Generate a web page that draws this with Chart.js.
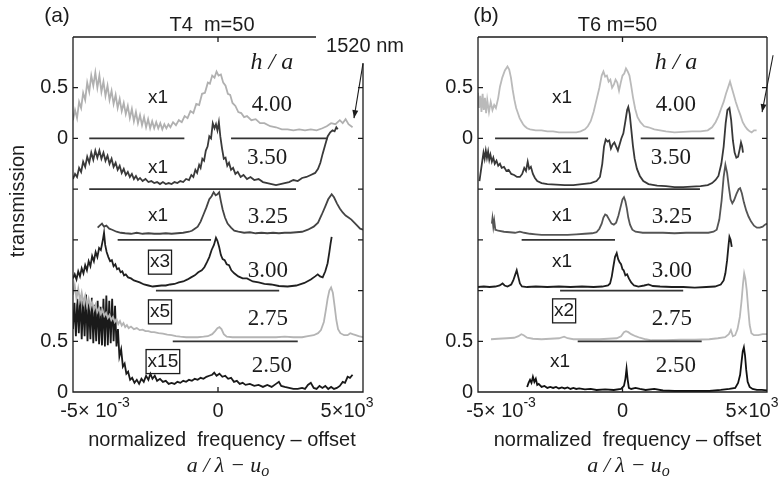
<!DOCTYPE html>
<html><head><meta charset="utf-8">
<script src="https://cdn.jsdelivr.net/npm/chart.js@4.4.1/dist/chart.umd.min.js"></script>
<style>
html,body{margin:0;padding:0;background:#fff;width:782px;height:487px;overflow:hidden}
#cA{position:absolute;left:0;top:0}
#cB{position:absolute;left:391px;top:0}
</style></head><body>
<canvas id="cA" width="440" height="487"></canvas>
<canvas id="cB" width="391" height="487"></canvas>
<script>
// ---------- data ----------
const offsets = [2.5, 2.0, 1.5, 1.0, 0.5, 0];
const haLabels = ['4.00','3.50','3.25','3.00','2.75','2.50'];
const multA = ['x1','x1','x1','x3','x5','x15'];
const multB = ['x1','x1','x1','x1','x2','x1'];
const yTickLabels = ['0','0.5','','','','0','0.5',''];
const xTickValues = [-5, 0, 5];
const xTickBase = ['-5\u00d7 10', '0', '5\u00d710'];
const xTickSup = ['-3', '', '3'];

// panel (a) T4 : [normalized frequency offset (1e-3), transmission above baseline]
const a400 = [[-5.0,0.18],[-4.93,0.28],[-4.86,0.20],[-4.79,0.36],[-4.72,0.30],[-4.65,0.45],[-4.58,0.38],[-4.51,0.55],[-4.44,0.46],[-4.37,0.62],[-4.30,0.52],[-4.23,0.65],[-4.16,0.50],[-4.09,0.62],[-4.02,0.46],[-3.95,0.56],[-3.88,0.42],[-3.81,0.52],[-3.74,0.38],[-3.67,0.47],[-3.60,0.34],[-3.53,0.43],[-3.46,0.30],[-3.39,0.39],[-3.32,0.27],[-3.25,0.35],[-3.18,0.24],[-3.11,0.32],[-3.04,0.20],[-2.97,0.29],[-2.90,0.17],[-2.83,0.26],[-2.76,0.15],[-2.69,0.23],[-2.62,0.13],[-2.55,0.21],[-2.48,0.11],[-2.41,0.19],[-2.34,0.10],[-2.27,0.17],[-2.20,0.10],[-2.13,0.16],[-2.06,0.10],[-1.99,0.15],[-1.92,0.09],[-1.85,0.14],[-1.78,0.10],[-1.71,0.14],[-1.64,0.11],[-1.55,0.16],[-1.45,0.13],[-1.35,0.18],[-1.25,0.16],[-1.15,0.22],[-1.05,0.20],[-0.95,0.27],[-0.85,0.25],[-0.75,0.34],[-0.65,0.33],[-0.55,0.44],[-0.45,0.45],[-0.35,0.55],[-0.28,0.54],[-0.2,0.62],[-0.12,0.60],[-0.05,0.66],[0.02,0.62],[0.1,0.63],[0.18,0.55],[0.26,0.52],[0.34,0.44],[0.42,0.43],[0.5,0.35],[0.6,0.32],[0.7,0.26],[0.8,0.25],[0.9,0.21],[1.0,0.22],[1.15,0.18],[1.3,0.19],[1.45,0.15],[1.6,0.15],[1.8,0.12],[2.0,0.11],[2.2,0.09],[2.4,0.09],[2.6,0.08],[2.8,0.09],[3.0,0.08],[3.2,0.09],[3.4,0.08],[3.6,0.10],[3.75,0.12],[3.9,0.15],[4.05,0.14],[4.2,0.18],[4.3,0.15],[4.4,0.19],[4.5,0.14],[4.64,0.11]];
const a350 = [[-5.0,0.10],[-4.93,0.15],[-4.86,0.12],[-4.79,0.21],[-4.72,0.17],[-4.65,0.27],[-4.58,0.22],[-4.51,0.32],[-4.44,0.26],[-4.37,0.36],[-4.30,0.29],[-4.23,0.38],[-4.16,0.31],[-4.09,0.38],[-4.02,0.30],[-3.95,0.36],[-3.88,0.28],[-3.81,0.33],[-3.74,0.25],[-3.67,0.30],[-3.60,0.22],[-3.53,0.26],[-3.46,0.19],[-3.39,0.23],[-3.32,0.16],[-3.25,0.20],[-3.18,0.14],[-3.11,0.17],[-3.04,0.12],[-2.97,0.15],[-2.90,0.10],[-2.83,0.13],[-2.76,0.09],[-2.69,0.11],[-2.6,0.08],[-2.5,0.10],[-2.4,0.07],[-2.3,0.08],[-2.2,0.06],[-2.1,0.07],[-2.0,0.05],[-1.9,0.07],[-1.8,0.05],[-1.7,0.06],[-1.6,0.05],[-1.5,0.07],[-1.4,0.06],[-1.3,0.08],[-1.2,0.07],[-1.1,0.10],[-1.0,0.09],[-0.92,0.14],[-0.85,0.12],[-0.78,0.19],[-0.72,0.16],[-0.65,0.24],[-0.6,0.21],[-0.54,0.30],[-0.48,0.28],[-0.42,0.38],[-0.36,0.42],[-0.3,0.52],[-0.24,0.50],[-0.18,0.65],[-0.12,0.60],[-0.07,0.64],[-0.02,0.58],[0.03,0.66],[0.08,0.52],[0.14,0.40],[0.2,0.30],[0.26,0.31],[0.32,0.23],[0.38,0.26],[0.45,0.19],[0.52,0.21],[0.6,0.15],[0.68,0.17],[0.78,0.12],[0.88,0.14],[1.0,0.10],[1.12,0.12],[1.25,0.09],[1.4,0.10],[1.55,0.07],[1.7,0.06],[1.85,0.05],[2.0,0.04],[2.15,0.05],[2.3,0.06],[2.45,0.07],[2.6,0.09],[2.75,0.08],[2.9,0.11],[3.05,0.12],[3.2,0.14],[3.35,0.16],[3.45,0.20],[3.53,0.26],[3.61,0.35],[3.7,0.44],[3.78,0.52],[3.87,0.56],[3.95,0.58],[4.02,0.57],[4.08,0.61],[4.13,0.59]];
const a325 = [[-4.15,0.12],[-4.08,0.14],[-4.0,0.16],[-3.93,0.13],[-3.85,0.14],[-3.75,0.11],[-3.65,0.10],[-3.5,0.08],[-3.35,0.07],[-3.2,0.065],[-3.0,0.06],[-2.8,0.07],[-2.6,0.06],[-2.4,0.065],[-2.2,0.06],[-2.0,0.06],[-1.8,0.065],[-1.6,0.06],[-1.4,0.065],[-1.2,0.07],[-1.0,0.08],[-0.9,0.09],[-0.8,0.11],[-0.7,0.13],[-0.6,0.18],[-0.5,0.25],[-0.4,0.32],[-0.3,0.40],[-0.22,0.43],[-0.15,0.47],[-0.08,0.44],[-0.02,0.45],[0.04,0.47],[0.1,0.38],[0.16,0.30],[0.24,0.22],[0.33,0.16],[0.45,0.12],[0.56,0.09],[0.7,0.08],[0.9,0.07],[1.1,0.075],[1.3,0.065],[1.5,0.07],[1.7,0.065],[1.9,0.07],[2.1,0.065],[2.3,0.07],[2.5,0.07],[2.7,0.075],[2.9,0.08],[3.1,0.10],[3.3,0.13],[3.45,0.17],[3.58,0.25],[3.7,0.33],[3.8,0.40],[3.92,0.45],[4.0,0.42],[4.1,0.36],[4.2,0.31],[4.3,0.27],[4.4,0.24],[4.5,0.22],[4.6,0.20],[4.7,0.17],[4.8,0.14],[4.9,0.11],[5.0,0.10]];
const a300 = [[-5.0,0.12],[-4.94,0.16],[-4.88,0.11],[-4.82,0.19],[-4.76,0.14],[-4.7,0.22],[-4.64,0.17],[-4.58,0.25],[-4.52,0.20],[-4.46,0.29],[-4.4,0.24],[-4.34,0.34],[-4.28,0.29],[-4.22,0.38],[-4.16,0.33],[-4.1,0.42],[-4.04,0.40],[-3.97,0.50],[-3.93,0.57],[-3.89,0.45],[-3.84,0.38],[-3.78,0.33],[-3.72,0.29],[-3.66,0.30],[-3.6,0.24],[-3.54,0.26],[-3.48,0.21],[-3.42,0.22],[-3.36,0.18],[-3.3,0.19],[-3.24,0.15],[-3.18,0.16],[-3.1,0.13],[-3.0,0.12],[-2.9,0.10],[-2.8,0.09],[-2.7,0.08],[-2.55,0.06],[-2.4,0.05],[-2.25,0.04],[-2.1,0.045],[-1.95,0.05],[-1.8,0.05],[-1.65,0.06],[-1.5,0.065],[-1.35,0.08],[-1.2,0.09],[-1.05,0.11],[-0.93,0.13],[-0.8,0.15],[-0.68,0.18],[-0.56,0.20],[-0.47,0.23],[-0.38,0.28],[-0.3,0.33],[-0.22,0.40],[-0.14,0.45],[-0.07,0.52],[-0.02,0.49],[0.04,0.43],[0.1,0.35],[0.16,0.31],[0.23,0.30],[0.3,0.26],[0.38,0.25],[0.46,0.20],[0.56,0.17],[0.7,0.14],[0.85,0.12],[1.0,0.12],[1.2,0.09],[1.4,0.08],[1.6,0.065],[1.83,0.06],[2.1,0.045],[2.4,0.04],[2.7,0.05],[2.98,0.075],[3.2,0.11],[3.35,0.14],[3.44,0.16],[3.52,0.14],[3.61,0.13],[3.7,0.19],[3.78,0.27],[3.84,0.38],[3.88,0.46],[3.92,0.53]];
const a275 = [[-5.0,0.46],[-4.94,0.55],[-4.88,0.42],[-4.82,0.52],[-4.76,0.40],[-4.7,0.48],[-4.64,0.38],[-4.58,0.45],[-4.52,0.35],[-4.46,0.42],[-4.4,0.33],[-4.34,0.39],[-4.28,0.31],[-4.22,0.36],[-4.16,0.29],[-4.1,0.33],[-4.04,0.27],[-3.98,0.31],[-3.92,0.25],[-3.86,0.28],[-3.8,0.23],[-3.74,0.26],[-3.68,0.21],[-3.62,0.24],[-3.56,0.19],[-3.5,0.22],[-3.44,0.17],[-3.38,0.20],[-3.32,0.155],[-3.26,0.18],[-3.2,0.14],[-3.14,0.16],[-3.08,0.13],[-3.0,0.145],[-2.9,0.12],[-2.8,0.13],[-2.7,0.11],[-2.6,0.115],[-2.5,0.10],[-2.4,0.10],[-2.3,0.09],[-2.2,0.09],[-2.05,0.08],[-1.9,0.075],[-1.75,0.065],[-1.6,0.06],[-1.45,0.05],[-1.3,0.045],[-1.1,0.04],[-0.9,0.04],[-0.7,0.04],[-0.5,0.045],[-0.35,0.05],[-0.2,0.07],[-0.1,0.10],[-0.02,0.13],[0.05,0.14],[0.12,0.12],[0.2,0.07],[0.3,0.045],[0.5,0.04],[0.8,0.04],[1.1,0.04],[1.4,0.04],[1.7,0.04],[2.0,0.04],[2.3,0.045],[2.6,0.04],[2.9,0.04],[3.1,0.05],[3.3,0.06],[3.45,0.08],[3.55,0.11],[3.65,0.19],[3.72,0.31],[3.78,0.42],[3.84,0.50],[3.9,0.53],[3.96,0.48],[4.02,0.35],[4.08,0.21],[4.14,0.12],[4.22,0.08],[4.35,0.06],[4.47,0.06],[4.56,0.08],[4.64,0.07],[4.75,0.06],[4.85,0.05],[5.0,0.04]];
const a250 = [[-5.0,0.62],[-4.95,0.88],[-4.9,0.55],[-4.85,0.92],[-4.8,0.58],[-4.75,0.95],[-4.7,0.52],[-4.65,0.90],[-4.6,0.55],[-4.55,0.96],[-4.5,0.50],[-4.45,0.88],[-4.4,0.52],[-4.35,0.93],[-4.3,0.48],[-4.25,0.86],[-4.2,0.50],[-4.15,0.90],[-4.1,0.47],[-4.05,0.84],[-4.0,0.46],[-3.95,0.92],[-3.9,0.45],[-3.85,0.95],[-3.8,0.46],[-3.75,0.90],[-3.7,0.48],[-3.65,0.92],[-3.6,0.50],[-3.55,0.85],[-3.5,0.45],[-3.45,0.62],[-3.4,0.35],[-3.34,0.42],[-3.28,0.25],[-3.22,0.28],[-3.16,0.18],[-3.1,0.20],[-3.03,0.12],[-2.96,0.14],[-2.88,0.09],[-2.8,0.12],[-2.72,0.08],[-2.64,0.13],[-2.56,0.10],[-2.48,0.16],[-2.4,0.12],[-2.33,0.18],[-2.26,0.13],[-2.18,0.16],[-2.1,0.11],[-2.0,0.13],[-1.9,0.10],[-1.8,0.11],[-1.7,0.08],[-1.6,0.09],[-1.5,0.08],[-1.4,0.10],[-1.3,0.09],[-1.2,0.11],[-1.1,0.10],[-1.0,0.12],[-0.9,0.11],[-0.8,0.13],[-0.7,0.12],[-0.6,0.14],[-0.5,0.13],[-0.4,0.15],[-0.3,0.16],[-0.2,0.17],[-0.13,0.19],[-0.05,0.16],[0.05,0.18],[0.15,0.15],[0.25,0.16],[0.35,0.13],[0.45,0.14],[0.55,0.10],[0.65,0.11],[0.75,0.08],[0.85,0.09],[0.95,0.07],[1.1,0.08],[1.25,0.06],[1.4,0.07],[1.55,0.05],[1.7,0.07],[1.85,0.05],[2.0,0.08],[2.1,0.10],[2.18,0.06],[2.3,0.05],[2.45,0.04],[2.6,0.03],[2.75,0.03],[2.9,0.04],[3.0,0.03],[3.1,0.07],[3.2,0.09],[3.3,0.04],[3.4,0.03],[3.5,0.06],[3.6,0.04],[3.7,0.06],[3.8,0.03],[3.9,0.05],[4.0,0.03],[4.1,0.04],[4.2,0.06],[4.3,0.10],[4.38,0.09],[4.47,0.15],[4.55,0.14],[4.64,0.17]];

// panel (b) T6
const b400 = [[-5.0,0.45],[-4.96,0.30],[-4.92,0.42],[-4.88,0.26],[-4.84,0.44],[-4.8,0.28],[-4.76,0.40],[-4.72,0.25],[-4.68,0.38],[-4.62,0.26],[-4.56,0.36],[-4.5,0.28],[-4.44,0.33],[-4.38,0.30],[-4.3,0.40],[-4.24,0.51],[-4.16,0.60],[-4.07,0.67],[-3.98,0.71],[-3.92,0.68],[-3.86,0.60],[-3.8,0.48],[-3.74,0.38],[-3.68,0.30],[-3.62,0.25],[-3.56,0.20],[-3.5,0.17],[-3.44,0.14],[-3.38,0.12],[-3.3,0.10],[-3.2,0.09],[-3.0,0.08],[-2.8,0.08],[-2.6,0.07],[-2.4,0.07],[-2.2,0.06],[-2.0,0.06],[-1.8,0.06],[-1.6,0.06],[-1.45,0.07],[-1.3,0.09],[-1.2,0.12],[-1.1,0.17],[-1.0,0.26],[-0.9,0.38],[-0.8,0.50],[-0.72,0.62],[-0.66,0.66],[-0.6,0.61],[-0.54,0.62],[-0.48,0.56],[-0.42,0.58],[-0.36,0.50],[-0.3,0.53],[-0.24,0.58],[-0.18,0.55],[-0.12,0.47],[-0.06,0.55],[0.0,0.62],[0.06,0.64],[0.12,0.69],[0.18,0.66],[0.24,0.62],[0.3,0.52],[0.36,0.41],[0.44,0.29],[0.52,0.21],[0.62,0.16],[0.75,0.12],[0.9,0.11],[1.1,0.09],[1.3,0.08],[1.5,0.07],[1.8,0.06],[2.1,0.065],[2.4,0.07],[2.7,0.07],[2.95,0.08],[3.1,0.11],[3.22,0.16],[3.32,0.22],[3.42,0.30],[3.5,0.36],[3.58,0.44],[3.65,0.50],[3.72,0.56],[3.78,0.50],[3.84,0.44],[3.92,0.36],[4.0,0.29],[4.08,0.23],[4.16,0.16],[4.24,0.12],[4.32,0.09],[4.4,0.07],[4.47,0.06],[4.55,0.08],[4.64,0.08]];
const b350 = [[-4.95,0.08],[-4.9,0.18],[-4.85,0.28],[-4.81,0.36],[-4.77,0.30],[-4.73,0.38],[-4.69,0.31],[-4.65,0.37],[-4.61,0.29],[-4.57,0.34],[-4.52,0.27],[-4.47,0.31],[-4.42,0.25],[-4.36,0.28],[-4.3,0.23],[-4.24,0.25],[-4.18,0.21],[-4.1,0.22],[-4.02,0.18],[-3.94,0.19],[-3.85,0.15],[-3.75,0.14],[-3.65,0.12],[-3.55,0.12],[-3.47,0.15],[-3.4,0.21],[-3.34,0.18],[-3.28,0.27],[-3.23,0.20],[-3.17,0.22],[-3.1,0.15],[-3.03,0.11],[-2.95,0.08],[-2.8,0.06],[-2.6,0.05],[-2.3,0.045],[-2.0,0.04],[-1.7,0.04],[-1.4,0.05],[-1.1,0.06],[-0.9,0.08],[-0.78,0.12],[-0.7,0.25],[-0.64,0.42],[-0.58,0.49],[-0.52,0.47],[-0.46,0.48],[-0.4,0.40],[-0.34,0.44],[-0.28,0.46],[-0.22,0.42],[-0.16,0.38],[-0.1,0.44],[-0.04,0.50],[0.03,0.55],[0.1,0.67],[0.16,0.78],[0.2,0.81],[0.25,0.74],[0.3,0.60],[0.36,0.43],[0.42,0.30],[0.5,0.20],[0.6,0.13],[0.72,0.08],[0.9,0.05],[1.2,0.035],[1.5,0.03],[1.8,0.02],[2.1,0.02],[2.4,0.025],[2.7,0.03],[2.95,0.04],[3.1,0.06],[3.22,0.09],[3.32,0.13],[3.42,0.25],[3.5,0.42],[3.57,0.65],[3.63,0.78],[3.7,0.80],[3.76,0.68],[3.82,0.48],[3.88,0.36],[3.94,0.31],[4.0,0.32],[4.06,0.40],[4.1,0.46],[4.14,0.42],[4.17,0.36]];
const b325 = [[-4.52,0.16],[-4.5,0.21],[-4.47,0.13],[-4.44,0.19],[-4.4,0.10],[-4.3,0.09],[-4.1,0.08],[-3.9,0.075],[-3.72,0.07],[-3.55,0.08],[-3.4,0.07],[-3.2,0.06],[-3.0,0.055],[-2.8,0.05],[-2.5,0.05],[-2.2,0.05],[-1.9,0.05],[-1.6,0.055],[-1.3,0.06],[-1.05,0.065],[-0.9,0.075],[-0.8,0.11],[-0.72,0.16],[-0.66,0.22],[-0.6,0.25],[-0.54,0.24],[-0.46,0.20],[-0.38,0.16],[-0.3,0.15],[-0.22,0.17],[-0.14,0.24],[-0.07,0.32],[0.0,0.40],[0.05,0.42],[0.1,0.38],[0.15,0.31],[0.2,0.22],[0.26,0.15],[0.34,0.10],[0.45,0.08],[0.7,0.07],[1.0,0.07],[1.4,0.07],[1.8,0.065],[2.2,0.07],[2.6,0.07],[2.97,0.07],[3.15,0.08],[3.26,0.10],[3.35,0.20],[3.43,0.39],[3.5,0.62],[3.56,0.74],[3.62,0.66],[3.68,0.52],[3.74,0.40],[3.8,0.36],[3.86,0.39],[3.94,0.45],[4.02,0.50],[4.07,0.51],[4.13,0.46],[4.2,0.37],[4.28,0.29],[4.36,0.23],[4.45,0.18],[4.55,0.14],[4.65,0.12],[4.75,0.12],[4.85,0.13],[4.93,0.15],[5.0,0.16]];
const b300 = [[-5.0,0.035],[-4.8,0.04],[-4.6,0.035],[-4.4,0.04],[-4.25,0.05],[-4.15,0.07],[-4.08,0.05],[-3.98,0.04],[-3.85,0.06],[-3.78,0.10],[-3.72,0.15],[-3.66,0.20],[-3.61,0.14],[-3.55,0.07],[-3.48,0.04],[-3.3,0.035],[-3.0,0.04],[-2.6,0.035],[-2.2,0.04],[-1.8,0.035],[-1.4,0.04],[-1.0,0.035],[-0.7,0.04],[-0.5,0.05],[-0.43,0.07],[-0.37,0.14],[-0.32,0.23],[-0.26,0.33],[-0.2,0.37],[-0.15,0.31],[-0.1,0.28],[-0.05,0.26],[0.0,0.21],[0.04,0.20],[0.1,0.15],[0.16,0.16],[0.22,0.12],[0.3,0.08],[0.4,0.05],[0.55,0.04],[0.75,0.05],[0.9,0.06],[1.05,0.045],[1.3,0.04],[1.7,0.035],[2.1,0.035],[2.5,0.03],[2.9,0.035],[3.2,0.04],[3.4,0.06],[3.5,0.10],[3.56,0.17],[3.62,0.30],[3.67,0.45],[3.7,0.53],[3.74,0.50],[3.78,0.43]];
const b275 = [[-4.55,0.02],[-4.3,0.025],[-4.0,0.03],[-3.75,0.035],[-3.6,0.05],[-3.5,0.07],[-3.42,0.06],[-3.3,0.035],[-3.1,0.025],[-2.8,0.02],[-2.5,0.025],[-2.2,0.03],[-2.02,0.045],[-1.9,0.03],[-1.7,0.02],[-1.4,0.02],[-1.1,0.02],[-0.8,0.02],[-0.5,0.025],[-0.2,0.03],[-0.05,0.05],[0.05,0.09],[0.12,0.10],[0.2,0.09],[0.3,0.07],[0.45,0.05],[0.6,0.035],[0.8,0.02],[1.0,0.01],[1.5,0.01],[2.0,0.015],[2.5,0.015],[3.0,0.02],[3.3,0.03],[3.55,0.04],[3.68,0.07],[3.75,0.11],[3.82,0.05],[3.9,0.06],[3.98,0.12],[4.06,0.24],[4.12,0.40],[4.17,0.57],[4.21,0.67],[4.25,0.62],[4.3,0.50],[4.35,0.32],[4.4,0.16],[4.46,0.08],[4.55,0.06],[4.7,0.06],[4.85,0.07],[5.0,0.07]];
const b250 = [[-3.3,0.05],[-3.25,0.09],[-3.2,0.12],[-3.15,0.09],[-3.1,0.15],[-3.05,0.10],[-3.0,0.13],[-2.95,0.07],[-2.9,0.08],[-2.8,0.05],[-2.7,0.06],[-2.6,0.04],[-2.5,0.05],[-2.4,0.04],[-2.3,0.05],[-2.2,0.035],[-2.1,0.045],[-2.0,0.035],[-1.9,0.045],[-1.8,0.03],[-1.7,0.04],[-1.6,0.03],[-1.5,0.035],[-1.3,0.025],[-1.1,0.03],[-0.9,0.02],[-0.6,0.025],[-0.3,0.02],[-0.05,0.03],[0.05,0.06],[0.1,0.13],[0.14,0.23],[0.18,0.12],[0.22,0.04],[0.3,0.03],[0.45,0.04],[0.6,0.03],[0.8,0.02],[1.1,0.03],[1.4,0.015],[1.8,0.01],[2.2,0.01],[2.6,0.01],[3.0,0.01],[3.4,0.02],[3.7,0.03],[3.9,0.04],[4.0,0.09],[4.07,0.17],[4.12,0.30],[4.16,0.40],[4.2,0.44],[4.24,0.36],[4.28,0.22],[4.33,0.10],[4.4,0.05],[4.5,0.03],[4.65,0.02],[4.82,0.02],[5.0,0.015]];

// zero-reference segments (x ranges) for the offset traces 4.00 .. 2.75
const baseA = [[[-4.44,-1.16],[0.45,3.78]], [[-4.44,2.69]], [[-3.46,-0.24]], [[-2.14,2.11]], [[-1.56,2.75]]];
const baseB = [[[-4.41,-1.19],[0.63,3.18]], [[-4.41,2.68]], [[-3.49,-0.26]], [[-2.16,2.10]], [[-1.55,2.74]]];

// ---------- styles / positions ----------
const SANS = "'Liberation Sans', Arial, sans-serif";
const SERIF = "'Liberation Serif', 'Times New Roman', serif";
const INK = '#1c1c1c';
const colorsA = ['#b0b0b0','#3a3a3a','#444444','#202020','#b4b4b4','#1a1a1a'];
const colorsB = ['#bababa','#383838','#555555','#1e1e1e','#b8b8b8','#111111'];

const panelA = {
  canvas:'cA', traces:[a400,a350,a325,a300,a275,a250], colors:colorsA, bases:baseA, mult:multA,
  axisW:73, padR:77, tag:'(a)', tagDx:-16, title:'T4  m=50', titleDx:-6,
  topEnd:3.38, rightStart:3.24, ylabel:true, note:{t:'1520 nm', x:5.07, y:3.41},
  arrow:[5.0,3.24,4.69,2.70], xLabDx:[22,0,-16], xTitleDx:4, x2Dx:10,
  multX:[-2.07,-2.07,-2.07,-2.0,-2.0,-1.9], multY:[2.90,2.21,1.74,1.28,0.79,0.30],
  numX:[1.86,1.69,1.72,1.72,1.72,1.86], numY:[2.84,2.32,1.74,1.20,0.73,0.27], ha:[1.86,3.25]
};
const panelB = {
  canvas:'cB', traces:[b400,b350,b325,b300,b275,b250], colors:colorsB, bases:baseB, mult:multB,
  axisW:87, padR:15, tag:'(b)', tagDx:8, title:'T6 m=50', titleDx:-5,
  topEnd:null, rightStart:null, ylabel:false, note:null,
  arrow:[5.21,3.32,4.83,2.76], xLabDx:[23,0,-15], xTitleDx:5, x2Dx:6,
  multX:[-2.09,-2.09,-2.09,-2.09,-2.02,-2.16], multY:[2.90,2.21,1.74,1.28,0.80,0.30],
  numX:[1.85,1.67,1.71,1.71,1.71,1.85], numY:[2.84,2.32,1.74,1.20,0.73,0.27], ha:[1.85,3.25]
};

function scriptText(ctx, base, small, cx, cy, f1, f2, shift){
  ctx.font = f1; const w1 = ctx.measureText(base).width;
  ctx.font = f2; const w2 = small ? ctx.measureText(small).width : 0;
  const x0 = cx - (w1 + w2) / 2;
  ctx.textAlign = 'left';
  ctx.font = f1; ctx.fillText(base, x0, cy);
  if (small) { ctx.font = f2; ctx.fillText(small, x0 + w1, cy - shift); }
}

function arrow(ctx, x1, y1, x2, y2){
  ctx.beginPath(); ctx.moveTo(x1, y1); ctx.lineTo(x2, y2); ctx.stroke();
  const a = Math.atan2(y2 - y1, x2 - x1), L = 8, W = 3;
  ctx.beginPath(); ctx.moveTo(x2, y2);
  ctx.lineTo(x2 - L*Math.cos(a) + W*Math.sin(a), y2 - L*Math.sin(a) - W*Math.cos(a));
  ctx.lineTo(x2 - L*Math.cos(a) - W*Math.sin(a), y2 - L*Math.sin(a) + W*Math.cos(a));
  ctx.closePath(); ctx.fill();
}

function decoPlugin(p){
  return {
    id: 'deco' + p.canvas,
    afterDraw(chart){
      const ctx = chart.ctx, xs = chart.scales.x, ys = chart.scales.y, A = chart.chartArea;
      const X = v => xs.getPixelForValue(v), Y = v => ys.getPixelForValue(v);
      ctx.save();
      ctx.strokeStyle = INK; ctx.fillStyle = INK; ctx.lineWidth = 1.3;
      const topEnd = p.topEnd != null ? X(p.topEnd) : A.right;
      const rightTop = p.rightStart != null ? Y(p.rightStart) : A.top;
      ctx.beginPath();
      ctx.moveTo(A.left, A.top); ctx.lineTo(topEnd, A.top);
      ctx.moveTo(A.left, A.top); ctx.lineTo(A.left, A.bottom); ctx.lineTo(A.right, A.bottom); ctx.lineTo(A.right, rightTop);
      ys.ticks.forEach(t => {
        const py = Y(t.value);
        ctx.moveTo(A.left, py); ctx.lineTo(A.left + 5, py);
        if (py >= rightTop) { ctx.moveTo(A.right, py); ctx.lineTo(A.right - 5, py); }
      });
      xTickValues.forEach(v => {
        const px = X(v);
        ctx.moveTo(px, A.bottom); ctx.lineTo(px, A.bottom - 5);
        if (px <= topEnd) { ctx.moveTo(px, A.top); ctx.lineTo(px, A.top + 5); }
      });
      ctx.stroke();
      ctx.textBaseline = 'middle';
      // x tick labels
      xTickValues.forEach((v, i) => {
        scriptText(ctx, xTickBase[i], xTickSup[i], X(v) + p.xLabDx[i], A.bottom + 19,
          '20px ' + SANS, '14px ' + SANS, 8);
      });
      // axis titles
      const cx = (A.left + A.right) / 2;
      ctx.textAlign = 'center';
      ctx.font = '20px ' + SANS;
      ctx.fillText('normalized  frequency \u2013 offset', cx + p.xTitleDx, A.bottom + 48);
      scriptText(ctx, 'a / \u03bb \u2212 u', 'o', cx + p.x2Dx, A.bottom + 74,
        'italic 22px ' + SERIF, 'italic 16px ' + SERIF, -6);
      ctx.textAlign = 'center';
      ctx.font = '21px ' + SANS;
      ctx.fillText(p.tag, A.left + p.tagDx, 16);
      ctx.font = '20px ' + SANS;
      ctx.fillText(p.title, cx + p.titleDx, 25);
      if (p.ylabel) {
        ctx.save(); ctx.translate(18, 201); ctx.rotate(-Math.PI / 2);
        ctx.font = '20px ' + SANS; ctx.fillText('transmission', 0, 0); ctx.restore();
      }
      if (p.note) { ctx.font = '20px ' + SANS; ctx.fillText(p.note.t, X(p.note.x), Y(p.note.y)); }
      ctx.lineWidth = 1.1;
      arrow(ctx, X(p.arrow[0]), Y(p.arrow[1]), X(p.arrow[2]), Y(p.arrow[3]));
      // h/a header
      ctx.textAlign = 'center';
      ctx.font = 'italic 24px ' + SERIF;
      ctx.fillText('h / a', X(p.ha[0]), Y(p.ha[1]));
      // per-trace labels
      haLabels.forEach((s, i) => {
        ctx.textAlign = 'center';
        ctx.font = '23px ' + SERIF;
        ctx.fillText(s, X(p.numX[i]), Y(p.numY[i]) + 1);
        const mx = X(p.multX[i]), my = Y(p.multY[i]);
        ctx.font = '19px ' + SANS;
        ctx.fillText(p.mult[i], mx, my);
        if (p.mult[i] !== 'x1') {
          const w = ctx.measureText(p.mult[i]).width;
          ctx.lineWidth = 1.3;
          ctx.strokeRect(mx - w/2 - 1.5, my - 12, w + 3, 24);
        }
      });
      ctx.restore();
    }
  };
}

function makeChart(p){
  const datasets = [];
  p.bases.forEach((segs, i) => segs.forEach(s => datasets.push({
    data: [{x: s[0], y: offsets[i]}, {x: s[1], y: offsets[i]}],
    borderColor: '#333333', borderWidth: 1.7, pointRadius: 0
  })));
  p.traces.forEach((tr, i) => datasets.push({
    data: tr.map(q => ({x: q[0], y: q[1] + offsets[i]})),
    borderColor: p.colors[i], borderWidth: 1.8, pointRadius: 0
  }));
  return new Chart(document.getElementById(p.canvas), {
    type: 'line',
    data: { datasets },
    options: {
      responsive: false, animation: false,
      layout: { padding: { left: 0, right: p.padR, top: 37, bottom: 95 } },
      plugins: { legend: { display: false }, tooltip: { enabled: false } },
      elements: { line: { tension: 0 }, point: { radius: 0 } },
      scales: {
        x: { type: 'linear', min: -5, max: 5, display: false },
        y: {
          type: 'linear', min: 0, max: 3.5,
          grid: { display: false, drawTicks: false },
          border: { display: false },
          ticks: { stepSize: 0.5, autoSkip: false, padding: 5, color: INK,
                   font: { family: SANS, size: 20 },
                   callback: (v, i) => yTickLabels[i] },
          afterFit: s => { s.width = p.axisW; }
        }
      }
    },
    plugins: [decoPlugin(p)]
  });
}

makeChart(panelA);
makeChart(panelB);
</script>
</body></html>
